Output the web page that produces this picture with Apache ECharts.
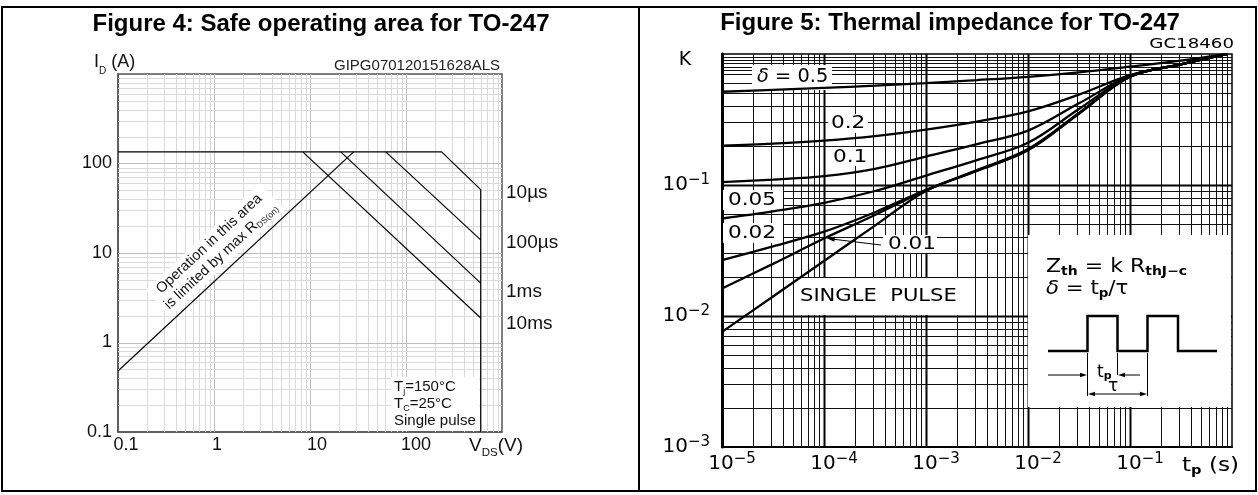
<!DOCTYPE html>
<html><head><meta charset="utf-8">
<script src="https://cdn.jsdelivr.net/npm/echarts@6/dist/echarts.min.js"></script>
<style>html,body{margin:0;padding:0;background:#fff}#c{width:1258px;height:495px}</style>
</head><body><div id="c"></div>
<script>
// ---------- Figure 4 : Safe operating area (V_DS [V], I_D [A]) ----------
const soa10us  = [[0.1,135],[235,135],[600,51],[600,0.1]];
const soa100us = [[61.5,135],[600,14]];
const soa1ms   = [[20.9,135],[600,4.6]];
const soa10ms  = [[8.4,135],[600,1.88]];
const rdsLimit = [[0.1,0.48],[28.5,135]];
const soaCurveNames = ['10µs','100µs','1ms','10ms'];
const xTickLabelsL = {'-1':'0.1','0':'1','1':'10','2':'100'};
const yTickLabelsL = {'-1':'0.1','0':'1','1':'10','2':'100'};

// ---------- Figure 5 : Thermal impedance (t_p [s], K) ----------
const tp     = [1e-5, 3.16e-5, 1e-4, 3.16e-4, 1e-3, 3.16e-3, 1e-2, 3.16e-2, 0.1, 0.316, 0.9];
const k05    = [0.515, 0.533, 0.552, 0.573, 0.600, 0.632, 0.670, 0.725, 0.800, 0.890, 1.0];
const k02    = [0.200, 0.207, 0.218, 0.236, 0.265, 0.305, 0.365, 0.490, 0.690, 0.835, 1.0];
const k01    = [0.105, 0.110, 0.117, 0.133, 0.165, 0.205, 0.260, 0.420, 0.680, 0.835, 1.0];
const k005   = [0.0555, 0.063, 0.073, 0.090, 0.118, 0.155, 0.210, 0.380, 0.675, 0.835, 1.0];
const k002   = [0.0267, 0.034, 0.044, 0.062, 0.092, 0.130, 0.188, 0.355, 0.672, 0.835, 1.0];
const k001   = [0.0162, 0.025, 0.039, 0.059, 0.091, 0.129, 0.186, 0.352, 0.671, 0.835, 1.0];
const kSP    = [0.00756, 0.0141, 0.0263, 0.049, 0.090, 0.128, 0.184, 0.350, 0.670, 0.835, 1.0];
const xExpR = [-5,-4,-3,-2,-1];
const yExpR = [-3,-2,-1];

// gridline tick values
const mantissas = [1,2,3,4,5,6,7,8,9];
const decadesL = [-1,0,1,2];
const extraTopR = [0.95,0.85,0.75];

const FL = 'Liberation Sans, Arial, sans-serif';
const FR = 'DejaVu Sans, sans-serif';

function gridVals(decs){
  const out=[];
  decs.forEach(d=>mantissas.forEach(k=>{ if(d===decs[0]&&k===1) return; out.push([k*Math.pow(10,d), k===1?1:0]); }));
  return out;
}
function gridSeries(idx, vals, dir, xr, yr, cMaj, cMin, wMaj, wMin){
  return {type:'custom', xAxisIndex:idx, yAxisIndex:idx, z:1, silent:true,
    encode:{x:0,y:1},
    data: vals.map(([v,m]) => dir==='v' ? [v, yr[0], m] : [xr[0], v, m]),
    renderItem(params, api){
      const m = api.value(2); let a,b;
      if(dir==='v'){ a=api.coord([api.value(0),yr[0]]); b=api.coord([api.value(0),yr[1]]); const x=Math.round(a[0])+0.5; a[0]=x;b[0]=x; }
      else { a=api.coord([xr[0],api.value(1)]); b=api.coord([xr[1],api.value(1)]); const y=Math.round(a[1])+0.5; a[1]=y;b[1]=y; }
      return {type:'line', shape:{x1:a[0],y1:a[1],x2:b[0],y2:b[1]}, style:{stroke:m?cMaj:cMin, lineWidth:m?wMaj:wMin}};
    }};
}
const lineL = d => ({type:'line', xAxisIndex:0, yAxisIndex:0, data:d, symbol:'none', lineStyle:{color:'#000',width:1.2}, z:5, silent:true});
const lineR = ks => ({type:'line', xAxisIndex:1, yAxisIndex:1, data:tp.map((t,i)=>[t,ks[i]]), symbol:'none', smooth:0.35, lineStyle:{color:'#000',width:2.3}, z:5, silent:true});

const vR = gridVals(xExpR);
const hR = gridVals(yExpR).concat(extraTopR.map(v=>[v,0]));

// ---------- graphics (annotations) ----------
function arrow(x1,y1,x2,y2,L,W){
  const dx=x2-x1, dy=y2-y1, n=Math.hypot(dx,dy), ux=dx/n, uy=dy/n;
  return {type:'polygon', z:7, silent:true, shape:{points:[[x2,y2],[x2-L*ux-W*uy, y2-L*uy+W*ux],[x2-L*ux+W*uy, y2-L*uy-W*ux]]}, style:{fill:'#000'}};
}
function seg(x1,y1,x2,y2,w){ return {type:'line', z:7, silent:true, shape:{x1,y1,x2,y2}, style:{stroke:'#000', lineWidth:w||1}}; }
function box(x,y,w,h){ return {type:'rect', z:3, silent:true, shape:{x,y,width:w,height:h}, style:{fill:'#fff'}}; }
function txt(x,y,text,style,extra){ return Object.assign({type:'text', x, y, z:8, silent:true,
  style:Object.assign({text, fill:'#000', fontFamily:FL, fontSize:18, align:'left', verticalAlign:'middle'}, style||{})}, extra||{}); }

const richL = {n:{fontSize:18,fontFamily:FL,lineHeight:28,fill:'#111'}, s:{fontSize:10,fontFamily:FL,lineHeight:10,verticalAlign:'bottom',fill:'#111'}};
const richV = {n:{fontSize:19,fontFamily:FL,lineHeight:26,fill:'#111'}, s:{fontSize:11.5,fontFamily:FL,lineHeight:11,verticalAlign:'bottom',fill:'#111'}};
const richT = {n:{fontSize:15,fontFamily:FL,lineHeight:18,fill:'#111'}, s:{fontSize:9,fontFamily:FL,lineHeight:9,verticalAlign:'bottom',fill:'#111'}};
const richR = {n:{fontSize:19,fontFamily:FR,lineHeight:22}, i:{fontSize:19,fontFamily:FR,fontStyle:'italic',lineHeight:22}, s:{fontSize:12,fontFamily:FR,fontWeight:'bold',lineHeight:12,verticalAlign:'bottom'}};

const graphics = [
  // outer frame
  {type:'rect', z:10, silent:true, shape:{x:2,y:7,width:1254,height:484}, style:{fill:'none',stroke:'#000',lineWidth:2}},
  seg(639,7,639,491,2),
  // titles
  txt(321,24,'Figure 4: Safe operating area for TO-247',{fontWeight:'bold',fontSize:24,align:'center'}),
  txt(950,23,'Figure 5: Thermal impedance for TO-247',{fontWeight:'bold',fontSize:24,align:'center'}),
  // Fig 4 texts
  txt(94,62,'{n|I}{s|D}{n| (A)}',{rich:richL}),
  txt(500,66,'GIPG070120151628ALS',{fontSize:15,align:'right',fill:'#222'}),
  txt(469,446,'{n|V}{s|DS}{n|(V)}',{rich:richV}),
  txt(506,193,soaCurveNames[0],{fontSize:19,fill:'#111'}),
  txt(506,243,soaCurveNames[1],{fontSize:19,fill:'#111'}),
  txt(506,292,soaCurveNames[2],{fontSize:19,fill:'#111'}),
  txt(506,324,soaCurveNames[3],{fontSize:19,fill:'#111'}),
  {type:'text', x:215, y:250, z:4, silent:true, rotation:43*Math.PI/180,
    style:{text:'{a|Operation in this area}\n{a|is limited by max R}{b|DS(on)}', align:'center', verticalAlign:'middle', backgroundColor:'#fff', padding:[1,4],
      rich:{a:{fontSize:14.5,fontFamily:FL,lineHeight:17,fill:'#111'}, b:{fontSize:8.5,fontFamily:FL,lineHeight:8,verticalAlign:'bottom',fill:'#111'}}}},
  box(391,377,88,54),
  txt(394,387,'{n|T}{s|j}{n|=150°C}',{rich:richT}),
  txt(394,404,'{n|T}{s|C}{n|=25°C}',{rich:richT}),
  txt(394,421,'{n|Single pulse}',{rich:richT}),
  // Fig 5 texts
  txt(685,60,'K',{fontFamily:FR,fontSize:19,align:'center'}),
  txt(1234,44,'GC18460',{fontFamily:FR,fontSize:14,align:'right'},{scaleX:1.3}),
  txt(1182,466,'{n|t}{s|p}{n| (s)}',{rich:richR},{scaleX:1.22}),
  box(752,65,80,25), txt(757,77.5,'{i|δ}{n| = 0.5}',{rich:richR},{scaleX:1.02}),
  box(828,114,40,19), txt(831,123.5,'0.2',{fontFamily:FR,fontSize:18},{scaleX:1.2}),
  box(830,147,38,19), txt(833,157,'0.1',{fontFamily:FR,fontSize:18},{scaleX:1.2}),
  box(723,190,60,20), txt(728,200,'0.05',{fontFamily:FR,fontSize:18},{scaleX:1.2}),
  box(723,223,60,20), txt(728,233.5,'0.02',{fontFamily:FR,fontSize:18},{scaleX:1.2}),
  box(883,235,54,18), txt(888,244,'0.01',{fontFamily:FR,fontSize:18},{scaleX:1.2}),
  seg(881,245,830,238.8,1), arrow(881,245,826.7,238.3,8,2.5),
  box(795,278,178,37), txt(800,297,'SINGLE  PULSE',{fontFamily:FR,fontSize:17},{scaleX:1.24}),
  box(1028,235,203,172),
  txt(1046,267,'{n|Z}{s|th}{n| = k R}{s|thJ−c}',{rich:richR},{scaleX:1.16}),
  txt(1046,289,'{i|δ}{n| = t}{s|p}{n|/τ}',{rich:richR},{scaleX:1.12}),
  {type:'polyline', z:7, silent:true, shape:{points:[[1048,351],[1087.5,351],[1087.5,316],[1117.5,316],[1117.5,351],[1147.5,351],[1147.5,316],[1178,316],[1178,351],[1217,351]]}, style:{stroke:'#000',lineWidth:2.5,fill:'none'}},
  seg(1087.5,353,1087.5,396,1), seg(1117.5,353,1117.5,375,1), seg(1147.5,353,1147.5,396,1),
  seg(1048,375,1083,375,1), arrow(1048,375,1087,375,7,2.2),
  seg(1140,375,1122,375,1), arrow(1140,375,1118,375,7,2.2),
  seg(1092,394,1143,394,1), arrow(1110,394,1088,394,7,2.2), arrow(1120,394,1147,394,7,2.2),
  txt(1097,373,'{n|t}{s|p}',{rich:{n:{fontSize:17,fontFamily:FR,lineHeight:18},s:{fontSize:11,fontFamily:FR,fontWeight:'bold',lineHeight:10,verticalAlign:'bottom'}}}),
  txt(1113,387,'τ',{fontFamily:FR,fontSize:17,align:'center'})
];

const chart = echarts.init(document.getElementById('c'));
const option = {
  animation:false,
  backgroundColor:'#fff',
  grid:[
    {left:118, top:74, width:384, height:358, show:true, borderColor:'#555', borderWidth:1.5},
    {left:722, top:54, width:510, height:393, show:true, borderColor:'#000', borderWidth:1.5}
  ],
  xAxis:[
    {type:'log', logBase:10, gridIndex:0, min:0.1, max:1000,
      axisLine:{show:true,lineStyle:{color:'#555',width:1.5}}, axisTick:{show:false}, splitLine:{show:false},
      axisLabel:{margin:4, formatter:v=>{const e=Math.round(Math.log10(v)); const pad={'-1':'p16','0':'p6','1':'p14','2':'p20'}[e]; return pad?('{'+pad+'|'+xTickLabelsL[e]+'}'):'';},
        rich:{p16:{fontSize:18,fontFamily:FL,color:'#111',padding:[0,0,0,16]}, p6:{fontSize:18,fontFamily:FL,color:'#111',padding:[0,0,0,6]}, p14:{fontSize:18,fontFamily:FL,color:'#111',padding:[0,0,0,14]}, p20:{fontSize:18,fontFamily:FL,color:'#111',padding:[0,0,0,20]}}}},
    {type:'log', logBase:10, gridIndex:1, min:1e-5, max:1,
      axisLine:{show:true,lineStyle:{color:'#000',width:2}}, axisTick:{show:false}, splitLine:{show:false},
      axisLabel:{margin:5, formatter:v=>{const e=Math.round(Math.log10(v)); return xExpR.indexOf(e)>=0?('{sp|}{b|10}{s|−'+(-e)+'}'):'';},
        rich:{sp:{width:20}, b:{fontSize:20,fontFamily:FR,color:'#000',lineHeight:24}, s:{fontSize:15,fontFamily:FR,color:'#000',lineHeight:12,verticalAlign:'top'}}}}
  ],
  yAxis:[
    {type:'log', logBase:10, gridIndex:0, min:0.1, max:1000,
      axisLine:{show:true,lineStyle:{color:'#555',width:1.5}}, axisTick:{show:false}, splitLine:{show:false},
      axisLabel:{margin:6, fontSize:18, fontFamily:FL, color:'#111', formatter:v=>{const e=Math.round(Math.log10(v)); return yTickLabelsL[e]||'';}}},
    {type:'log', logBase:10, gridIndex:1, min:1e-3, max:1,
      axisLine:{show:true,lineStyle:{color:'#000',width:3}}, axisTick:{show:false}, splitLine:{show:false},
      axisLabel:{margin:12, formatter:v=>{const e=Math.round(Math.log10(v)); return yExpR.indexOf(e)>=0?('{b|10}{s|−'+(-e)+'}'):'';},
        rich:{b:{fontSize:20,fontFamily:FR,color:'#000',lineHeight:24}, s:{fontSize:15,fontFamily:FR,color:'#000',lineHeight:12,verticalAlign:'top'}}}}
  ],
  series:[
    gridSeries(0, gridVals(decadesL), 'v', [0.1,1000], [0.1,1000], '#bdbdbd', '#dadada', 1, 1),
    gridSeries(0, gridVals(decadesL), 'h', [0.1,1000], [0.1,1000], '#bdbdbd', '#dadada', 1, 1),
    gridSeries(1, vR, 'v', [1e-5,1], [1e-3,1], '#000', '#111', 2, 1),
    gridSeries(1, hR, 'h', [1e-5,1], [1e-3,1], '#000', '#111', 2, 1),
    lineL(soa10us), lineL(soa100us), lineL(soa1ms), lineL(soa10ms), lineL(rdsLimit),
    lineR(k05), lineR(k02), lineR(k01), lineR(k005), lineR(k002), lineR(k001), lineR(kSP)
  ],
  graphic: graphics
};
chart.setOption(option);
</script></body></html>
